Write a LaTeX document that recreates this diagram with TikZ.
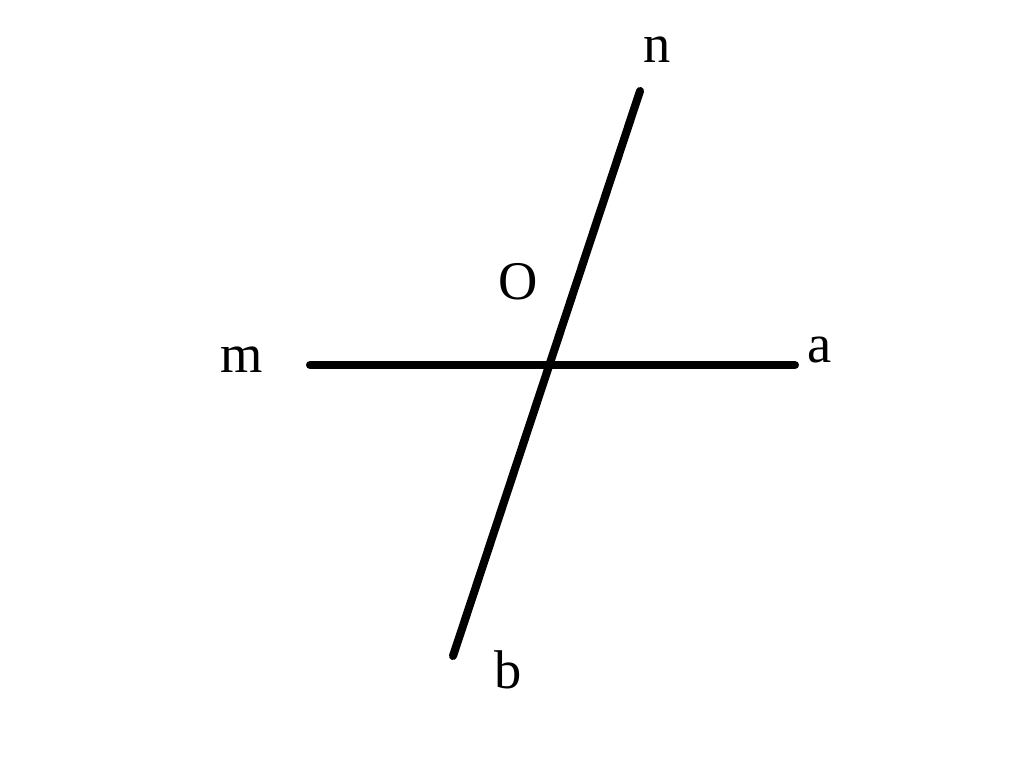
\documentclass[tikz,border=0pt]{standalone}
\usepackage{fontspec}
\setmainfont{Liberation Serif}
\begin{document}
\begin{tikzpicture}[x=0.02cm,y=-0.02cm,
  ln/.style={line width=4.6pt,line cap=round},
  lbl/.style={font=\fontsize{31}{36}\selectfont,inner sep=0pt}]
\useasboundingbox (0,0) rectangle (1024,773);
\coordinate (mL) at (310,365);
\coordinate (aR) at (795,365);
\coordinate (nT) at (640,91);
\coordinate (bB) at (453,656);
\draw[ln] (mL) -- (aR);
\draw[ln] (nT) -- (bB);
\node[lbl] (n) at (657,50) {n};
\node[lbl] (o) at (518,282) {O};
\node[lbl] (m) at (242,360) {m};
\node[lbl] (a) at (820,350) {a};
\node[lbl] (b) at (508,670) {b};
\end{tikzpicture}
\end{document}
